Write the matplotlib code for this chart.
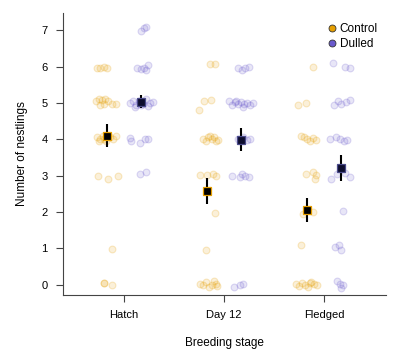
import matplotlib.pyplot as plt
from matplotlib.colors import to_rgba

plt.rcParams['font.family'] = ['Liberation Sans', 'DejaVu Sans']

stages = ["Hatch", "Day 12", "Fledged"]

# raw nestling counts (jittered as in the figure): x offset from tick, value
hatch_ctrl_x = [-27, -24, -20, -17, -28, -25, -22, -19, -16, -24, -20, -12, -8,
                -27, -24, -21, -18, -14, -11, -8, -25, -20, -26, -16, -6, -12, -20, -20, -12]
hatch_ctrl_y = [5.97, 5.96, 5.98, 5.95, 5.05, 5.1, 5.08, 5.1, 5.05, 4.95, 4.97, 4.98, 4.97,
                4.05, 4.0, 4.1, 3.95, 4.05, 4.0, 4.1, 3.95, 4.02, 3.0, 2.9, 3.0, 0.99, 0.05, 0.04, 0.0]
hatch_dull_x = [17, 20, 22, 13, 17, 20, 22, 24, 6, 9, 12, 15, 19, 22, 26, 29, 11, 17, 24,
                6, 7, 16, 21, 24, 16, 22]
hatch_dull_y = [6.98, 7.05, 7.08, 5.97, 5.93, 5.96, 5.9, 6.05, 5.0, 5.05, 4.95, 5.05, 4.98,
                5.1, 5.0, 5.02, 4.9, 4.93, 4.92, 4.03, 3.95, 3.9, 4.0, 4.02, 3.05, 3.1]
day12_ctrl_x = [-14, -9, -25, -20, -13, -21, -18, -16, -14, -12, -10, -8, -6,
                -24, -17, -11, -8, -9, -18, -24, -21, -18, -15, -12, -10, -8, -7]
day12_ctrl_y = [6.07, 6.07, 4.8, 5.05, 5.08, 4.0, 3.95, 4.05, 4.1, 4.0, 4.05, 3.95, 3.98,
                3.02, 3.03, 3.05, 3.0, 1.97, 0.95, 0.03, -0.02, 0.08, -0.05, 0.0, 0.1, 0.02, -0.03]
day12_dull_x = [14, 18, 21, 25, 5, 8, 11, 14, 17, 20, 23, 26, 29, 12, 19,
                14, 19, 23, 26, 8, 16, 18, 21, 25, 10, 16, 19]
day12_dull_y = [5.95, 5.9, 5.95, 6.0, 5.05, 4.95, 5.02, 4.98, 5.03, 4.96, 5.0, 4.95, 5.0, 5.05, 4.9,
                4.0, 4.05, 3.98, 4.02, 3.0, 2.95, 3.05, 3.0, 2.97, -0.05, 0.0, 0.02]
fled_ctrl_x = [-11, -26, -18, -23, -20, -17, -14, -11, -8, -18, -11, -9, -8, -21, -11, -23,
               -28, -25, -22, -19, -16, -13, -10, -7, -14]
fled_ctrl_y = [6.0, 4.95, 5.0, 4.08, 4.05, 4.0, 3.95, 4.03, 3.97, 3.05, 3.1, 2.9, 3.02, 1.95, 2.0, 1.1,
               0.03, -0.03, 0.05, 0.0, -0.05, 0.08, 0.02, -0.02, 0.05]
fled_dull_x = [9, 21, 26, 10, 14, 17, 22, 26, 6, 12, 16, 20, 23, 7, 13, 21, 26, 19,
               11, 15, 17, 13, 16, 17, 19]
fled_dull_y = [6.1, 5.98, 5.95, 4.95, 5.05, 4.98, 5.03, 5.07, 4.02, 4.05, 4.0, 3.95, 3.98,
               2.9, 3.05, 3.07, 2.95, 2.03, 1.05, 1.08, 0.95, 0.1, 0.02, -0.08, 0.0]

# group means and standard errors
ctrl_mean = [4.10, 2.58, 2.06]
ctrl_se = [0.31, 0.35, 0.33]
dull_mean = [5.03, 3.99, 3.21]
dull_se = [0.18, 0.31, 0.35]

ctrl_col = "#E69F00"
dull_col = "#6A5ACD"

fig = plt.figure(figsize=(3.99, 3.54), dpi=100)
ax = fig.add_axes([0.158, 0.167, 0.81, 0.796])

ctrl_sets = [(hatch_ctrl_x, hatch_ctrl_y), (day12_ctrl_x, day12_ctrl_y), (fled_ctrl_x, fled_ctrl_y)]
dull_sets = [(hatch_dull_x, hatch_dull_y), (day12_dull_x, day12_dull_y), (fled_dull_x, fled_dull_y)]

for sets, col in [(ctrl_sets, ctrl_col), (dull_sets, dull_col)]:
    for i, (xs, ys) in enumerate(sets):
        ax.scatter([i + 1 + x / 100 for x in xs], ys, s=24,
                   facecolor=to_rgba(col, 0.15), edgecolor=to_rgba(col, 0.22),
                   linewidth=0.8, zorder=2)

pos = [1, 2, 3]
ax.errorbar([p - 0.17 for p in pos], ctrl_mean, yerr=ctrl_se, fmt="s", color="black",
            ms=5.4, mfc="black", mec=ctrl_col, mew=0.9, elinewidth=1.5, capsize=0, zorder=4)
ax.errorbar([p + 0.17 for p in pos], dull_mean, yerr=dull_se, fmt="s", color="black",
            ms=5.4, mfc="#0d0d2e", mec="#4a4a8a", mew=0.9, elinewidth=1.5, capsize=0, zorder=4)

# legend handles
ax.plot([], [], "o", color=ctrl_col, mec="#333333", mew=0.6, ms=5, label="Control")
ax.plot([], [], "o", color=dull_col, mec="#333333", mew=0.6, ms=5, label="Dulled")
ax.legend(loc="upper right", frameon=False, fontsize=8.5, handletextpad=0.2,
          borderaxespad=0.3, labelspacing=0.3, handlelength=1.0, bbox_to_anchor=(1.0, 0.995))

ax.set_xlim(0.39, 3.62)
ax.set_ylim(-0.28, 7.47)
ax.set_xticks(pos)
ax.set_xticklabels(stages)
ax.set_yticks(range(8))
ax.set_xlabel("Breeding stage", fontsize=8.5, labelpad=12)
ax.set_ylabel("Number of nestlings", fontsize=8.5, labelpad=10)
ax.tick_params(labelsize=8, length=5, width=0.8, color="#444444", pad=6)
for s in ["top", "right"]:
    ax.spines[s].set_visible(False)
for s in ["left", "bottom"]:
    ax.spines[s].set_color("#444444")
    ax.spines[s].set_linewidth(0.8)

plt.savefig("out.png", dpi=100)
